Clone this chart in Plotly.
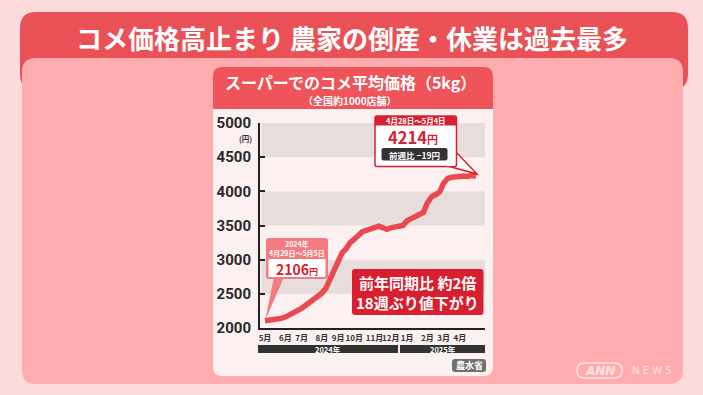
import plotly.graph_objects as go

# ---------------- data ----------------
week_index = list(range(53))
price = [2106, 2110, 2115, 2125, 2140, 2160, 2185, 2225, 2255, 2285,
         2330, 2380, 2410, 2450, 2510, 2580, 2720, 2860, 2990, 3100,
         3160, 3250, 3300, 3360, 3410, 3430, 3445, 3470, 3490, 3470,
         3445, 3465, 3485, 3490, 3500, 3570, 3600, 3630, 3660, 3690,
         3830, 3920, 3950, 3990, 4120, 4190, 4205, 4215, 4220, 4225,
         4217, 4233, 4214]
month_ticks = [0, 5, 9, 14, 18, 22, 27, 31, 35, 40, 44, 48]
month_labels = ["5月", "6月", "7月", "8月", "9月", "10月", "11月", "12月", "1月", "2月", "3月", "4月"]
y_ticks = [2000, 2500, 3000, 3500, 4000, 4500, 5000]
band_ranges = [(2500, 3000), (3500, 4000), (4500, 5000)]

title = "コメ価格高止まり 農家の倒産・休業は過去最多"
chart_title = "スーパーでのコメ平均価格（5kg）"
chart_sub = "（全国約1000店舗）"

# ---------------- geometry helpers (pixel -> paper) ----------------
W, H = 703, 395
L, R, T, B = 260, 485, 123, 328


def px(x):
    return (x - L) / (R - L)


def py(y):
    return (B - y) / (B - T)


def rr(x0, y0, x1, y1, r, tl=True, tr=True, br=True, bl=True):
    def p(x, y):
        return f"{px(x):.5f},{py(y):.5f}"
    s = ""
    s += f"M {p(x0 + (r if tl else 0), y0)} "
    s += f"L {p(x1 - (r if tr else 0), y0)} "
    if tr:
        s += f"Q {p(x1, y0)} {p(x1, y0 + r)} "
    s += f"L {p(x1, y1 - (r if br else 0))} "
    if br:
        s += f"Q {p(x1, y1)} {p(x1 - r, y1)} "
    s += f"L {p(x0 + (r if bl else 0), y1)} "
    if bl:
        s += f"Q {p(x0, y1)} {p(x0, y1 - r)} "
    s += f"L {p(x0, y0 + (r if tl else 0))} "
    if tl:
        s += f"Q {p(x0, y0)} {p(x0 + r, y0)} "
    s += "Z"
    return s


def poly(points):
    return "M " + " L ".join(f"{px(x):.5f},{py(y):.5f}" for x, y in points) + " Z"


FONT = "Noto Sans CJK JP"
RED = "#ea5157"
shapes = []
ann = []


def pshape(path, fill, line_color=None, lw=0, layer="below"):
    shapes.append(dict(type="path", xref="paper", yref="paper", path=path,
                       fillcolor=fill, layer=layer,
                       line=dict(color=line_color or fill, width=lw)))


def text(x, y, t, size, color="white", xanchor="center", bold=True):
    ann.append(dict(xref="paper", yref="paper", x=px(x), y=py(y),
                    text=(f"<b>{t}</b>" if bold else t), showarrow=False,
                    xanchor=xanchor, yanchor="middle",
                    font=dict(family=FONT, size=size, color=color)))


# background panels
pshape(rr(20, 12, 688, 90, 16), RED)
pshape(rr(22, 58, 683, 384, 14), "#ffacae")
# card
pshape(rr(213, 67, 493, 376, 9), "#fdf0f1")
pshape(rr(213, 67, 493, 109, 9, br=False, bl=False), "#ee5459")

# gray bands
for lo, hi in band_ranges:
    shapes.append(dict(type="rect", xref="paper", yref="y", x0=px(261.5), x1=1,
                       y0=lo, y1=hi, fillcolor="#e7dddd", line=dict(width=0), layer="below"))

# year bars
pshape(rr(258, 345, 398, 353, 0, False, False, False, False), "#333333")
pshape(rr(400, 345, 485, 353, 0, False, False, False, False), "#333333")
text(328, 349.3, "2024年", 7.5)
text(442.5, 349.3, "2025年", 7.5)

# source box
pshape(rr(452, 359, 486, 372, 3), "#707070")
text(469, 365.5, "農水省", 9)

# left callout
SAL = "#f47c80"
pshape(poly([(274, 277), (284, 277), (265, 321)]), SAL, layer="above")
pshape(rr(266, 238, 328, 279, 3), SAL, layer="above")
pshape(rr(268.5, 259, 325.5, 277, 1), "white", layer="above")
text(297, 248.8, "2024年<br>4月29日～5月5日", 7)
text(297, 268.5, "2106<span style='font-size:9px'>円</span>", 14, color="#d9202e")

# right callout
CR = "#d9202e"
pshape(poly([(444, 165), (456, 152), (477, 174)]), "white", CR, 1.5, layer="above")
pshape(rr(375, 116, 456.5, 166.5, 2), "white", CR, 1.5, layer="above")
pshape(rr(375, 116, 456.5, 125.5, 2, br=False, bl=False), CR, layer="above")
pshape(poly([(447, 164), (455, 155), (455, 166), (447, 166)]), "white", layer="above")
text(415.5, 120.8, "4月28日～5月4日", 7.5)
text(413, 136.5, "4214<span style='font-size:11px'>円</span>", 16.5, color=CR)
pshape(rr(381.5, 148, 447.5, 160.5, 2), "#333333", layer="above")
text(414.5, 154.6, "前週比 −19円", 8.5)

# crimson box
pshape(rr(352, 269, 483.5, 315, 3), "#d81e2f", layer="above")
text(417.5, 282.5, "前年同期比 約2倍", 15)
text(417.5, 302, "18週ぶり値下がり", 15)

# titles
text(351.5, 37, title, 26)
text(350, 81.5, chart_title, 16)
text(350, 100.8, chart_sub, 10)
text(245, 138, "(円)", 7.5, color="#333333", xanchor="center")

# ANN NEWS logo
logo = "#ffe3e4"
shapes.append(dict(type="path", xref="paper", yref="paper", path=rr(577, 363, 622, 378, 7.5),
                   fillcolor="rgba(0,0,0,0)", line=dict(color=logo, width=1.5), layer="below"))
ann.append(dict(xref="paper", yref="paper", x=px(599.5), y=py(370.5),
                text="<b><i>ANN</i></b>", showarrow=False, xanchor="center", yanchor="middle",
                font=dict(family="DejaVu Sans", size=12, color=logo)))
ann.append(dict(xref="paper", yref="paper", x=px(652), y=py(370.5),
                text="N E W S", showarrow=False, xanchor="center", yanchor="middle",
                font=dict(family="DejaVu Sans", size=10, color=logo)))

fig = go.Figure()
fig.add_trace(go.Scatter(x=week_index, y=price, mode="lines",
                         line=dict(color="#ea494f", width=5.5),
                         hoverinfo="skip", showlegend=False))

fig.update_layout(
    width=W, height=H,
    margin=dict(l=L, r=W - R, t=T, b=H - B, pad=0),
    paper_bgcolor="#fddadb",
    plot_bgcolor="rgba(0,0,0,0)",
    shapes=shapes,
    annotations=ann,
    xaxis=dict(range=[-1.23, 54.2], showgrid=False, zeroline=False,
               showline=True, linecolor="#222222", linewidth=2,
               tickmode="array", tickvals=month_ticks, ticktext=month_labels,
               ticks="", ticklabelstandoff=1, tickangle=0,
               tickfont=dict(family=FONT, size=8, color="#333333", weight="bold"),
               fixedrange=True),
    yaxis=dict(range=[2000, 5000], showgrid=False, zeroline=False,
               showline=True, linecolor="#222222", linewidth=2,
               tickmode="array", tickvals=y_ticks,
               ticks="inside", ticklen=5, tickwidth=1.5, tickcolor="#222222",
               ticklabelstandoff=4,
               tickfont=dict(family="Roboto", size=15, color="#2a2a2a", weight="bold"),
               fixedrange=True),
)

fig.write_html("out.html", config={"displayModeBar": False},
               post_script="document.body.style.margin='0px';document.body.style.overflow='hidden';")
